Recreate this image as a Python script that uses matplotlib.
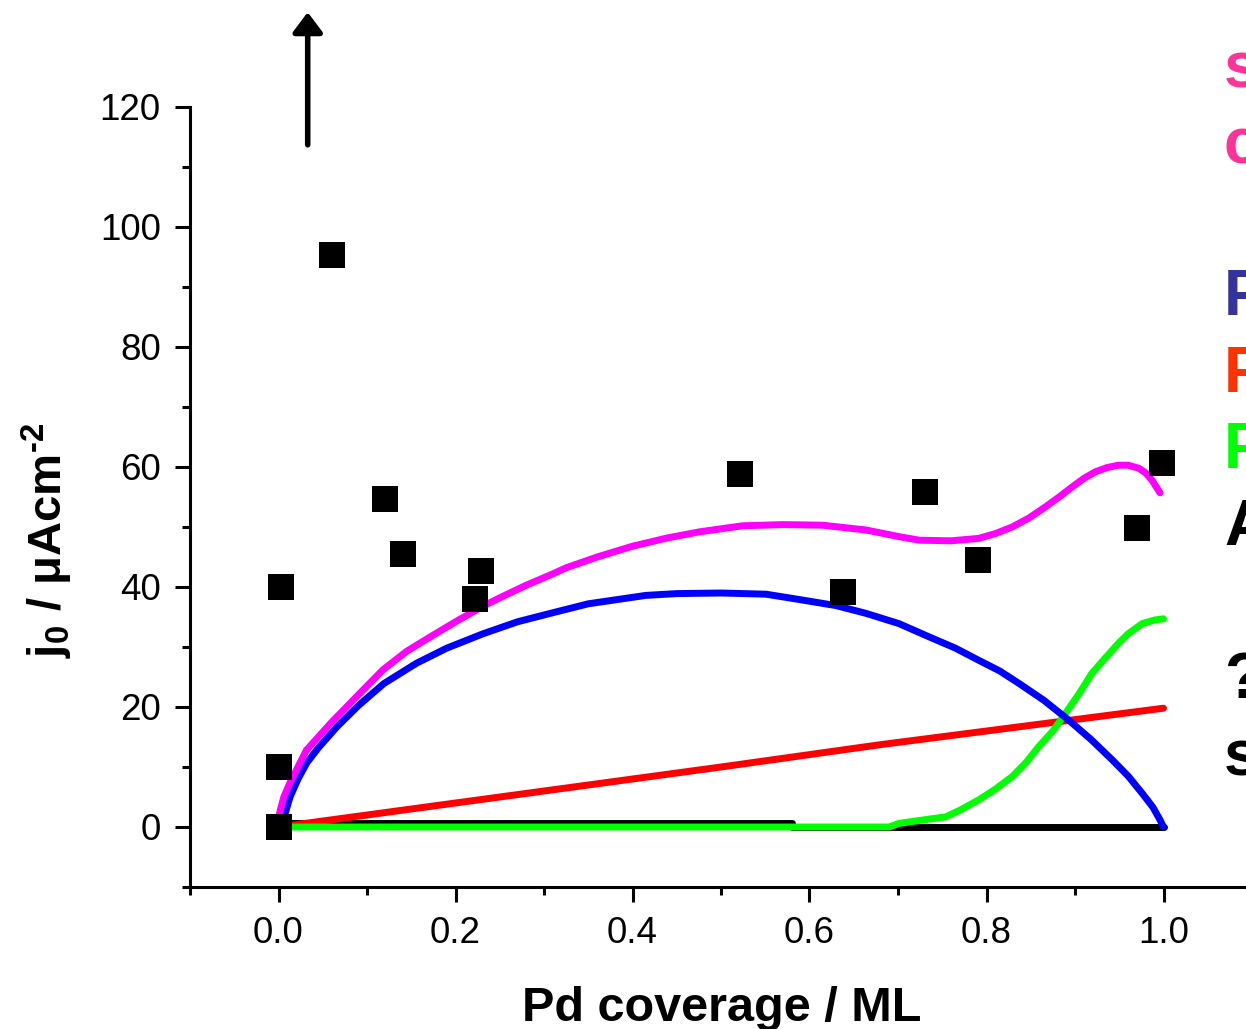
import matplotlib
matplotlib.use("Agg")
import matplotlib.pyplot as plt
from matplotlib.ticker import MultipleLocator, FormatStrFormatter

plt.rcParams['font.family'] = ['Liberation Sans', 'DejaVu Sans']
plt.rcParams['mathtext.fontset'] = 'custom'
plt.rcParams['mathtext.rm'] = 'Liberation Sans:bold'
plt.rcParams['mathtext.bf'] = 'Liberation Sans:bold'
plt.rcParams['mathtext.default'] = 'bf'

# Measured exchange current densities
meas_cov = [0.0, 0.0, 0.003, 0.060, 0.120, 0.141, 0.222, 0.229, 0.521, 0.638, 0.731, 0.790, 0.970, 0.998]
meas_j0 = [0.0, 10.0, 40.0, 95.3, 54.7, 45.5, 38.0, 42.7, 58.9, 39.2, 55.9, 44.5, 49.9, 60.7]

# Model: total (sum of site contributions)
sum_cov = [0.0, 0.002, 0.006, 0.0127, 0.0315, 0.059, 0.09, 0.118, 0.145, 0.175, 0.2, 0.231,
           0.25, 0.28, 0.307, 0.325, 0.36, 0.4, 0.44, 0.476, 0.524, 0.57, 0.615, 0.664,
           0.701, 0.724, 0.76, 0.791, 0.81, 0.829, 0.848, 0.867, 0.882, 0.897, 0.91, 0.923,
           0.936, 0.949, 0.96, 0.972, 0.98, 0.987, 0.996]
sum_j0 = [1.5, 2.8, 5.0, 7.3, 12.8, 17.3, 22.0, 26.2, 29.3, 32.0, 34.2, 36.8,
          38.2, 40.3, 42.0, 43.2, 45.0, 46.8, 48.2, 49.2, 50.2, 50.4, 50.3, 49.5,
          48.4, 47.8, 47.7, 48.1, 48.9, 50.0, 51.5, 53.4, 55.0, 56.7, 58.1, 59.2,
          59.9, 60.3, 60.3, 59.8, 59.0, 57.8, 55.7]

# Model: blue contribution
blue_cov = [0.003, 0.008, 0.013, 0.022, 0.032, 0.045, 0.066, 0.09, 0.119, 0.156, 0.19, 0.231,
            0.27, 0.307, 0.35, 0.415, 0.45, 0.5, 0.551, 0.589, 0.63, 0.664, 0.701, 0.735,
            0.765, 0.791, 0.815, 0.837, 0.865, 0.893, 0.918, 0.942, 0.96, 0.976, 0.988, 0.996, 1.0]
blue_j0 = [0.0, 2.5, 5.0, 8.0, 10.7, 13.2, 16.7, 20.2, 23.9, 27.3, 29.8, 32.2,
           34.2, 35.6, 37.2, 38.6, 38.9, 39.0, 38.8, 37.9, 36.9, 35.6, 33.9, 31.7,
           29.8, 27.8, 26.0, 23.9, 21.1, 17.8, 14.6, 11.2, 8.5, 5.6, 3.3, 1.2, 0.0]

# Model: red contribution
red_cov = [0.0, 0.25, 0.5, 0.679, 1.0]
red_j0 = [0.0, 5.0, 10.0, 13.7, 19.8]

# Model: green contribution
green_cov = [0.0, 0.69, 0.701, 0.72, 0.754, 0.77, 0.791, 0.81, 0.829, 0.845, 0.859, 0.875,
             0.889, 0.905, 0.919, 0.935, 0.949, 0.96, 0.976, 0.99, 1.0]
green_j0 = [0.0, 0.0, 0.6, 1.0, 1.7, 2.8, 4.5, 6.3, 8.4, 10.8, 13.4, 16.0,
            18.9, 22.3, 25.6, 28.3, 30.6, 32.2, 33.9, 34.5, 34.7]

# Model: black contribution
black_cov = [0.0, 0.58, 0.58, 1.0]
black_j0 = [0.6, 0.6, 0.0, 0.0]

side_labels = ["s", "c", "P", "P", "P", "A", "?", "s"]
side_colors = ["#FF3399", "#FF3399", "#333399", "#FF3300", "#00FF00", "black", "black", "black"]
side_baselines_px = [87, 163, 315, 392, 468, 545, 698, 775]

W, H = 1246, 1029
fig = plt.figure(figsize=(W / 100, H / 100), dpi=100)
ax = fig.add_axes([190 / W, (H - 887) / H, 1.2 * 885 / W, (887 - 107) / H])

lw = 5.0
ax.plot(black_cov, black_j0, color="black", lw=lw, solid_capstyle="round", zorder=2)
ax.plot(red_cov, red_j0, color="#FF0000", lw=lw, solid_capstyle="round", zorder=3)
ax.plot(green_cov, green_j0, color="#00FF00", lw=lw, solid_capstyle="round", zorder=4)
ax.plot(blue_cov, blue_j0, color="#0000FF", lw=lw, solid_capstyle="round", zorder=5)
ax.plot(sum_cov, sum_j0, color="#FF00FF", lw=lw, solid_capstyle="round", zorder=6)
ax.plot(meas_cov, meas_j0, linestyle="none", marker="s", ms=18.5, mew=0,
        color="black", zorder=7, clip_on=False)

# Off-scale point indicator
ax.annotate("", xy=(0.033, 135.8), xytext=(0.033, 113.7),
            arrowprops=dict(arrowstyle="-|>,head_length=0.6,head_width=0.45",
                            lw=4, color="black", mutation_scale=20,
                            shrinkA=0, shrinkB=0),
            annotation_clip=False)

ax.set_xlim(-0.1, 1.1)
ax.set_ylim(-10, 120)
ax.spines["top"].set_visible(False)
ax.spines["right"].set_visible(False)
for s in ("left", "bottom"):
    ax.spines[s].set_linewidth(2.2)

ax.xaxis.set_major_locator(MultipleLocator(0.2))
ax.xaxis.set_minor_locator(MultipleLocator(0.1))
ax.xaxis.set_major_formatter(FormatStrFormatter("%.1f"))
ax.yaxis.set_major_locator(MultipleLocator(20))
ax.yaxis.set_minor_locator(MultipleLocator(10))
ax.set_xticks([0.0, 0.2, 0.4, 0.6, 0.8, 1.0])
ax.tick_params(which="major", direction="out", length=11, width=2.2, labelsize=26.5)
ax.tick_params(which="minor", direction="out", length=6, width=2.2)
ax.tick_params(axis="x", which="major", pad=10)
ax.tick_params(axis="y", which="major", pad=10)

fig.text(722 / W, 1 - 1021 / H, "Pd coverage / ML", fontsize=35, fontweight="bold",
         ha="center", va="baseline")
fig.text(47 / W, 1 - 540 / H, r"j$_0$ / μAcm$^{\text{-}2}$", fontsize=34, fontweight="bold",
         rotation=90, ha="center", va="center")

for lab, col, base in zip(side_labels, side_colors, side_baselines_px):
    fig.text(1224 / W, 1 - base / H, lab, color=col, fontsize=46, fontweight="bold",
             ha="left", va="baseline")

fig.savefig("out.png", dpi=100)
